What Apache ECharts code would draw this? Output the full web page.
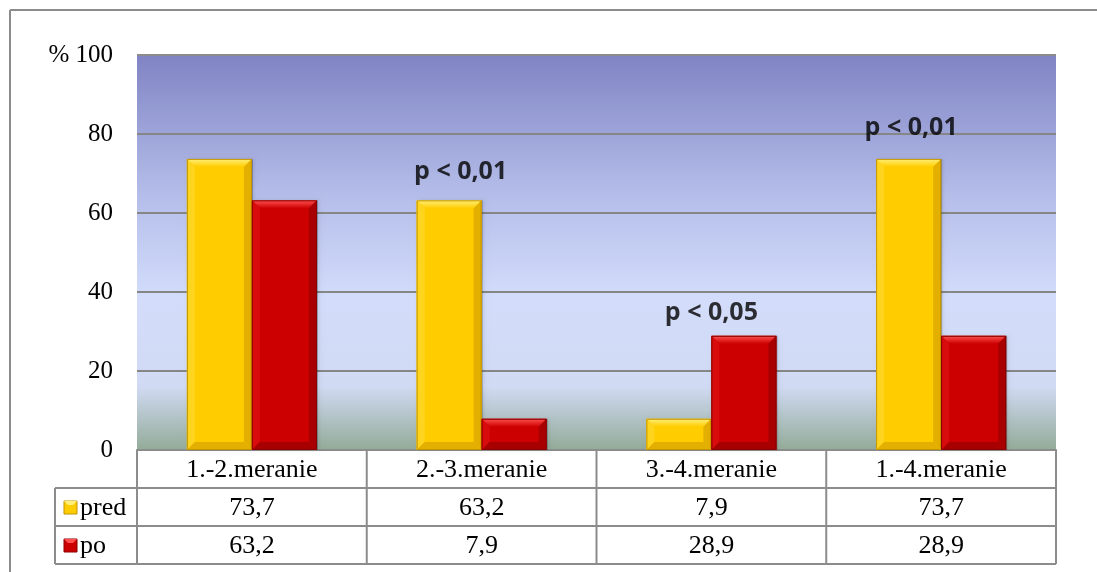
<!DOCTYPE html>
<html>
<head>
<meta charset="utf-8">
<script src="https://cdn.jsdelivr.net/npm/echarts@6/dist/echarts.min.js"></script>
<style>
  html, body { margin: 0; padding: 0; background: #ffffff; }
  #chart { width: 1097px; height: 572px; }
</style>
</head>
<body>
<div id="chart"></div>
<script>
// Measurement intervals and percentages for each series
const categories = ['1.-2.meranie', '2.-3.meranie', '3.-4.meranie', '1.-4.meranie'];
const seriesNames = ['pred', 'po'];
const predValues = [73.7, 63.2, 7.9, 73.7];
const poValues = [63.2, 7.9, 28.9, 28.9];
const yTicks = [0, 20, 40, 60, 80, 100];

// Significance notes: category index, height on the value axis, text
const noteCategory = [1, 2, 3];
const noteValue = [70.4, 34.7, 81.5];
const noteText = ['p < 0,01', 'p < 0,05', 'p < 0,01'];
const noteShift = [-21, 0, -30];

const GRID = { left: 137, top: 55, right: 41, bottom: 122 };
const ROW_H = 38;
const TABLE_LEFT = 55;
const BAR_W = 65;
const SERIF = '"Liberation Serif", "Times New Roman", serif';
const BORDER = '#8c8c8c';

const colors = {
  pred: { main: '#ffcc00', edge: '#c29400', light: '#fff07a', side: '#ffd41f', dark: '#e3af00' },
  po:   { main: '#cc0000', edge: '#880000', light: '#ff5050', side: '#d80c0c', dark: '#a80000' }
};

const chart = echarts.init(document.getElementById('chart'), null, { renderer: 'canvas' });

function fmt(v) { return String(v).replace('.', ','); }

// Bevelled bar: face, lit top and left rims, shaded right and bottom rims
function bevelRender(key, slot) {
  const c = colors[key];
  return function (params, api) {
    const top = api.coord([api.value(0), api.value(1)]);
    const base = api.coord([api.value(0), 0]);
    const x = top[0] + (slot === 0 ? -BAR_W : 0);
    const y = top[1];
    const w = BAR_W;
    const h = base[1] - top[1];
    const b = Math.min(8, h / 2);
    return {
      type: 'group',
      children: [
        { type: 'rect', shape: { x: x + 1, y: y, width: w, height: h },
          style: { fill: 'rgba(0,0,0,0.28)', shadowBlur: 4, shadowColor: 'rgba(0,0,0,0.35)', shadowOffsetX: 1 } },
        { type: 'rect', shape: { x: x, y: y, width: w, height: h }, style: { fill: c.main } },
        { type: 'polygon', shape: { points: [[x, y], [x + w, y], [x + w - b, y + b], [x + b, y + b]] },
          style: { fill: { type: 'linear', x: 0, y: 0, x2: 0, y2: 1,
            colorStops: [{ offset: 0, color: c.light }, { offset: 1, color: c.main }] } } },
        { type: 'polygon', shape: { points: [[x, y], [x + b, y + b], [x + b, y + h - b], [x, y + h]] },
          style: { fill: c.side } },
        { type: 'polygon', shape: { points: [[x + w, y], [x + w, y + h], [x + w - b, y + h - b], [x + w - b, y + b]] },
          style: { fill: c.dark } },
        { type: 'polygon', shape: { points: [[x, y + h], [x + w, y + h], [x + w - b, y + h - b], [x + b, y + h - b]] },
          style: { fill: c.dark } },
        { type: 'rect', shape: { x: x + 0.5, y: y + 0.5, width: w - 1, height: h - 1 },
          style: { fill: 'none', stroke: c.edge, lineWidth: 1 } }
      ]
    };
  };
}

const option = {
  animation: false,
  grid: {
    left: GRID.left, top: GRID.top, right: GRID.right, bottom: GRID.bottom,
    show: true,
    borderWidth: 0,
    backgroundColor: {
      type: 'linear', x: 0, y: 0, x2: 0, y2: 1,
      colorStops: [
        { offset: 0, color: '#8084c4' },
        { offset: 0.35, color: '#b4bde9' },
        { offset: 0.62, color: '#d3ddfb' },
        { offset: 0.84, color: '#d0daf3' },
        { offset: 1, color: '#93ab98' }
      ]
    }
  },
  xAxis: {
    type: 'category',
    data: categories,
    axisLine: { show: true, lineStyle: { color: BORDER, width: 2 } },
    axisTick: { show: false },
    axisLabel: { show: false },
    splitLine: { show: false }
  },
  yAxis: {
    type: 'value',
    min: 0, max: 100, interval: 20,
    axisLine: { show: false },
    axisTick: { show: false },
    axisLabel: {
      margin: 24,
      color: '#000',
      fontFamily: SERIF,
      fontSize: 25,
      formatter: v => (yTicks.indexOf(v) >= 0 ? String(v) : '')
    },
    splitLine: { show: true, lineStyle: { color: '#868686', width: 2 } }
  },
  series: [
    {
      name: seriesNames[0], type: 'custom', z: 3,
      renderItem: bevelRender('pred', 0),
      encode: { x: 0, y: 1 },
      data: predValues.map((v, i) => [i, v])
    },
    {
      name: seriesNames[1], type: 'custom', z: 3,
      renderItem: bevelRender('po', 1),
      encode: { x: 0, y: 1 },
      data: poValues.map((v, i) => [i, v])
    },
    {
      type: 'scatter',
      symbolSize: 0,
      silent: true,
      z: 10,
      data: noteCategory.map((c, i) => ({
        value: [c, noteValue[i]],
        label: {
          show: true, position: 'inside', offset: [noteShift[i], 0],
          formatter: noteText[i],
          fontFamily: '"Open Sans", sans-serif',
          fontWeight: 'bold', fontSize: 25, color: '#000'
        }
      }))
    }
  ]
};

chart.setOption(option);

// Outer frame, plot top edge, unit sign and the data table under the plot
function buildGraphics() {
  const W = 1097, H = 572;
  const plotLeft = GRID.left;
  const plotRight = W - GRID.right;
  const plotTop = GRID.top;
  const plotBottom = H - GRID.bottom;
  const colW = (plotRight - plotLeft) / categories.length;
  const els = [];
  const line = (x1, y1, x2, y2) => els.push({
    type: 'line', shape: { x1, y1, x2, y2 },
    style: { stroke: BORDER, lineWidth: 2 }, z: 20
  });
  const text = (x, y, t, align, size) => els.push({
    type: 'text', x, y, z: 21,
    style: { text: t, fill: '#000', fontSize: size || 26, fontFamily: SERIF,
      align: align || 'center', verticalAlign: 'middle' }
  });

  // outer frame
  line(10, 10, W, 10);
  line(10, 10, 10, H);
  // plot top edge
  line(plotLeft, plotTop, plotRight, plotTop);

  // unit sign beside the top tick
  text(plotLeft - 78, plotTop, '%', 'center', 25);

  // table rows
  const r0 = plotBottom, r1 = r0 + ROW_H, r2 = r1 + ROW_H, r3 = r2 + ROW_H;
  line(plotRight, r0, plotRight, r3);
  line(plotLeft, r0, plotLeft, r3);
  line(TABLE_LEFT, r1, plotRight, r1);
  line(TABLE_LEFT, r2, plotRight, r2);
  line(TABLE_LEFT, r3, plotRight, r3);
  line(TABLE_LEFT, r1, TABLE_LEFT, r3);
  for (let i = 1; i < categories.length; i++) {
    const x = plotLeft + colW * i;
    line(x, r0, x, r3);
  }
  categories.forEach((c, i) => {
    const cx = plotLeft + colW * (i + 0.5);
    text(cx, r0 + ROW_H / 2 + 1, c);
    text(cx, r1 + ROW_H / 2 + 1, fmt(predValues[i]));
    text(cx, r2 + ROW_H / 2 + 1, fmt(poValues[i]));
  });

  // legend keys inside the table
  [['pred', r1], ['po', r2]].forEach(([key, top]) => {
    const c = colors[key];
    const ky = top + ROW_H / 2 - 6;
    els.push({
      type: 'rect', shape: { x: 64, y: ky, width: 13, height: 13 },
      style: { fill: c.main, stroke: c.edge, lineWidth: 1 }, z: 21
    });
    els.push({
      type: 'polygon', shape: { points: [[64, ky], [77, ky], [73, ky + 4], [68, ky + 4]] },
      style: { fill: c.light }, z: 22
    });
    text(80, top + ROW_H / 2 + 1, key, 'left');
  });

  chart.setOption({ graphic: { elements: els } });
}
buildGraphics();
</script>
</body>
</html>
